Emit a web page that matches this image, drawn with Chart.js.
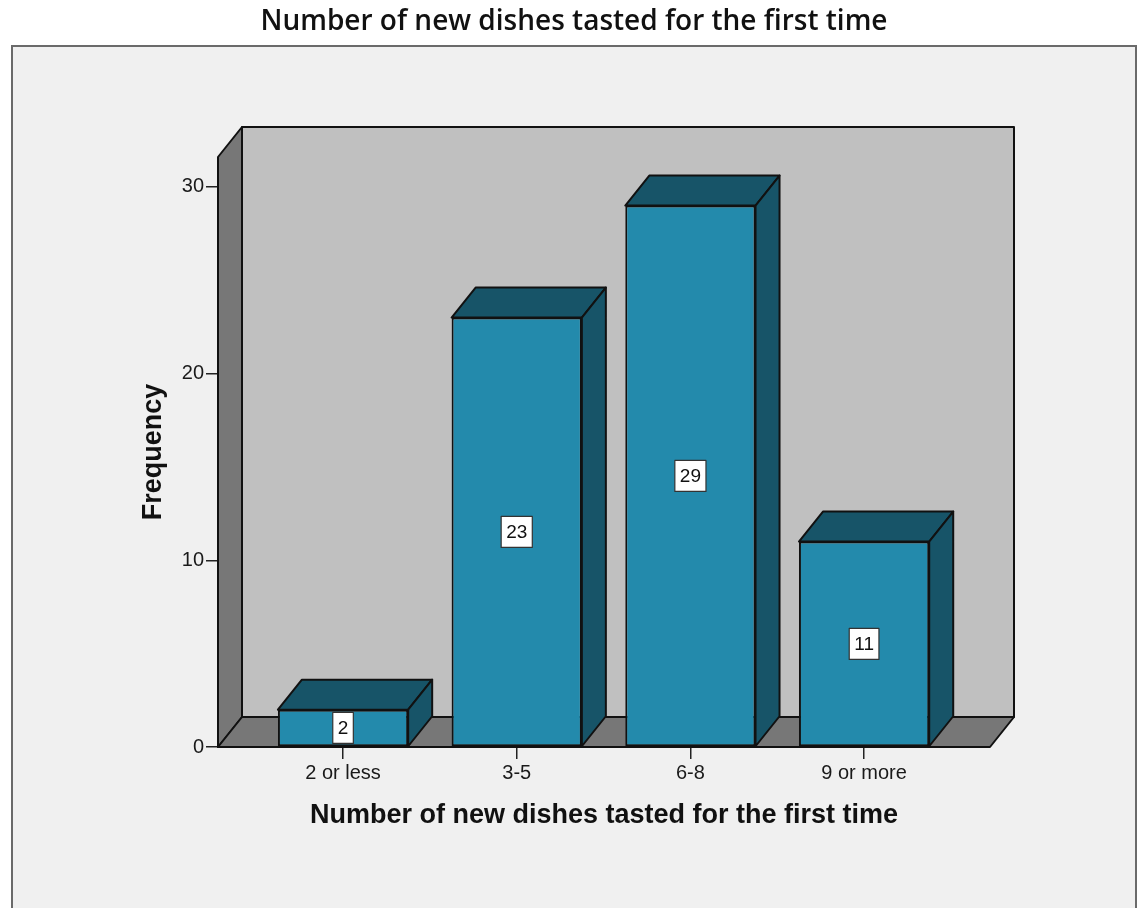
<!DOCTYPE html>
<html>
<head>
<meta charset="utf-8">
<title>Number of new dishes tasted for the first time</title>
<script src="https://cdn.jsdelivr.net/npm/chart.js@4"></script>
<style>
    html, body { margin: 0; padding: 0; background: #ffffff; }
    canvas { display: block; }
</style>
</head>
<body>
<canvas id="dishChart" width="1144" height="908"></canvas>
<script>
// Data
const categories = ['2 or less', '3-5', '6-8', '9 or more'];
const frequencies = [2, 23, 29, 11];
const yTicks = [0, 10, 20, 30];

const chartTitle = 'Number of new dishes tasted for the first time';
const xTitle = 'Number of new dishes tasted for the first time';
const yTitle = 'Frequency';

// Look of the 3D box
const depthX = 24;
const depthY = -30;
const barFront = '#238aac';
const barDark = '#175468';
const backWall = '#c0c0c0';
const sideWall = '#777777';
const edge = '#111111';

function poly(ctx, pts, fill) {
    ctx.beginPath();
    ctx.moveTo(pts[0][0], pts[0][1]);
    for (let i = 1; i < pts.length; i++) ctx.lineTo(pts[i][0], pts[i][1]);
    ctx.closePath();
    ctx.fillStyle = fill;
    ctx.fill();
    ctx.stroke();
}

// Frame + title + walls + 3D faces + value labels
const box3d = {
    id: 'box3d',
    beforeDraw(chart) {
        const ctx = chart.ctx;
        ctx.save();
        ctx.fillStyle = '#f0f0f0';
        ctx.fillRect(12, 46, 1124, 880);
        ctx.strokeStyle = '#6a6a6a';
        ctx.lineWidth = 2;
        ctx.strokeRect(12, 46, 1124, 880);

        ctx.fillStyle = '#111111';
        ctx.font = '600 28px "Open Sans", Arial, sans-serif';
        ctx.textAlign = 'center';
        ctx.textBaseline = 'middle';
        ctx.fillText(chartTitle, 574, 22);
        ctx.restore();
    },
    beforeDatasetsDraw(chart) {
        const ctx = chart.ctx;
        const { left, right, top, bottom } = chart.chartArea;
        ctx.save();
        ctx.strokeStyle = edge;
        ctx.lineWidth = 2;
        ctx.lineJoin = 'round';
        // back wall
        poly(ctx, [[left + depthX, top + depthY], [right + depthX, top + depthY],
                   [right + depthX, bottom + depthY], [left + depthX, bottom + depthY]], backWall);
        // left wall
        poly(ctx, [[left, top], [left + depthX, top + depthY],
                   [left + depthX, bottom + depthY], [left, bottom]], sideWall);
        // floor
        poly(ctx, [[left, bottom], [left + depthX, bottom + depthY],
                   [right + depthX, bottom + depthY], [right, bottom]], sideWall);
        ctx.restore();
    },
    afterDatasetsDraw(chart) {
        const ctx = chart.ctx;
        const meta = chart.getDatasetMeta(0);
        ctx.save();
        ctx.strokeStyle = edge;
        ctx.lineWidth = 2;
        ctx.lineJoin = 'round';
        meta.data.forEach((bar) => {
            const { x, y, base, width } = bar.getProps(['x', 'y', 'base', 'width'], true);
            const l = x - width / 2;
            const r = x + width / 2;
            // top face
            poly(ctx, [[l, y], [l + depthX, y + depthY], [r + depthX, y + depthY], [r, y]], barDark);
            // side face
            poly(ctx, [[r, y], [r + depthX, y + depthY], [r + depthX, base + depthY], [r, base]], barDark);
        });

        // value labels
        ctx.font = '19px "Liberation Sans", Arial, sans-serif';
        ctx.textAlign = 'center';
        ctx.textBaseline = 'middle';
        ctx.lineWidth = 1.2;
        meta.data.forEach((bar, i) => {
            const { x, y, base } = bar.getProps(['x', 'y', 'base'], true);
            const text = String(frequencies[i]);
            const w = ctx.measureText(text).width + 10;
            const h = 31;
            const cy = (y + base) / 2;
            ctx.fillStyle = '#ffffff';
            ctx.fillRect(x - w / 2, cy - h / 2, w, h);
            ctx.strokeStyle = '#333333';
            ctx.strokeRect(x - w / 2, cy - h / 2, w, h);
            ctx.fillStyle = '#111111';
            ctx.fillText(text, x, cy + 1);
        });
        ctx.restore();
    }
};

const ctx = document.getElementById('dishChart').getContext('2d');
const dishChart = new Chart(ctx, {
    type: 'bar',
    data: {
        datasets: [{
            data: frequencies.map((v, i) => ({ x: i, y: v })),
            backgroundColor: barFront,
            borderColor: edge,
            borderWidth: 2,
            borderSkipped: false,
            categoryPercentage: 1,
            barPercentage: 0.75
        }]
    },
    options: {
        responsive: false,
        animation: false,
        devicePixelRatio: 1,
        layout: { padding: { left: 137, right: 154, top: 157, bottom: 76 } },
        plugins: {
            legend: { display: false },
            tooltip: { enabled: false },
            title: { display: false }
        },
        scales: {
            x: {
                type: 'linear',
                min: -0.72,
                max: 3.725,
                offset: false,
                afterFit: (scale) => { scale.height = 85; },
                afterBuildTicks: (scale) => { scale.ticks = categories.map((c, i) => ({ value: i })); },
                grid: { display: true, drawOnChartArea: false, drawTicks: true, tickLength: 12, color: '#222222', lineWidth: 1.5, offset: false },
                border: { display: false },
                ticks: {
                    padding: 2,
                    color: '#1a1a1a',
                    font: { family: '"Liberation Sans", Arial, sans-serif', size: 20 },
                    callback: (v) => categories[v]
                },
                title: {
                    display: true,
                    text: xTitle,
                    color: '#111111',
                    padding: 0,
                    font: { family: '"Liberation Sans", Arial, sans-serif', size: 27, weight: 'bold' }
                }
            },
            y: {
                min: 0,
                max: 31.6,
                afterFit: (scale) => { scale.width = 81; },
                afterBuildTicks: (scale) => { scale.ticks = yTicks.map((v) => ({ value: v })); },
                grid: { display: true, drawOnChartArea: false, drawTicks: true, tickLength: 12, color: '#222222', lineWidth: 1.5 },
                border: { display: false },
                ticks: {
                    padding: 2,
                    color: '#1a1a1a',
                    font: { family: '"Liberation Sans", Arial, sans-serif', size: 20 }
                },
                title: {
                    display: true,
                    text: yTitle,
                    color: '#111111',
                    padding: 0,
                    font: { family: '"Liberation Sans", Arial, sans-serif', size: 27, weight: 'bold' }
                }
            }
        }
    },
    plugins: [box3d]
});
</script>
</body>
</html>
